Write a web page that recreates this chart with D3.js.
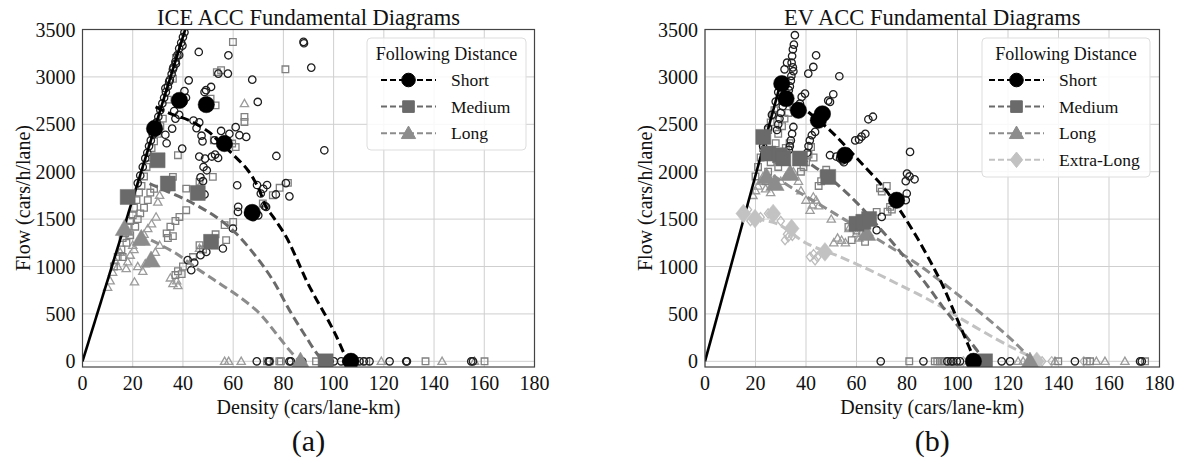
<!DOCTYPE html>
<html><head><meta charset="utf-8">
<script src="https://cdn.jsdelivr.net/npm/d3@7"></script>
<style>
body{margin:0;background:#fff}
svg{display:block}
text{font-family:"Liberation Serif","Times New Roman",serif;fill:#111}
</style></head>
<body><svg id="c" width="1184" height="469"></svg>
<script>
// ---------- axis ticks ----------
const xTicks = [0,20,40,60,80,100,120,140,160,180];
const yTicks = [0,500,1000,1500,2000,2500,3000,3500];
const titles = ["ICE ACC Fundamental Diagrams","EV ACC Fundamental Diagrams"];
const panelTags = ["(a)","(b)"];
const iceLegend = ["Short","Medium","Long"];
const evLegend = ["Short","Medium","Long","Extra-Long"];

// ---------- ICE (a) ----------
const iceFreeFlow = [[0,0],[40.9,3500]];
const iceShortCurve = [[29.1,2683],[34.6,2616],[42.6,2540],[50.3,2420],[54.3,2320],[60,2180],[66,2010],[70,1830],[73.1,1629],[76,1520],[81.1,1313],[85,1100],[89.1,856],[93,660],[97.1,469],[101,270],[105,47],[107,0]];
const iceMediumCurve = [[26.7,1875],[33,1800],[40,1720],[46.6,1629],[53.2,1523],[61.2,1348],[69.2,1102],[75.8,856],[82.4,540],[89,258],[94.4,47],[96.8,0]];
const iceLongCurve = [[27.3,1278],[37.3,1137],[46.6,961],[54.6,821],[62.5,680],[70.5,505],[77.1,294],[82.4,118],[86.4,0]];
const iceShortBig = [[28.7,2455],[38.6,2752],[49.3,2708],[56.5,2297],[67.6,1570],[106.9,0]];
const iceMediumBig = [[18,1734],[29.9,2121],[34,1875],[45.9,1776],[51.2,1260],[96.8,0]];
const iceLongBig = [[16.7,1400],[23.4,1295],[27.3,1067],[86.8,0]];
const iceCircles = [[22,1880],[23,1960],[24,2050],[25,2140],[25.8,2200],[26.5,2270],[27.2,2330],[28,2390],[28.8,2460],[29.5,2520],[30.2,2580],[31,2650],[31.8,2720],[32.5,2780],[33.2,2840],[34,2900],[34.8,2970],[35.5,3030],[36.2,3100],[37,3160],[37.8,3230],[38.5,3300],[39.3,3360],[40,3420],[40.6,3470],[33,2880],[34.5,2950],[36,3080],[37.2,3140],[38.5,3230],[39.8,3330],
[46.3,3263],[58.1,3228],[88,3370],[88.2,3355],[91.1,3098],[96.3,2226],[67.6,2971],[69.8,2736],[57.9,3035],[54.1,3035],[51.2,2894],[49.2,2860],[48.6,2841],[42.3,2964],[40.6,2850],[41.2,2780],[40.2,2740],[36.5,2640],[37,2560],[38.5,2600],[35.7,2455],[33,2390],[33.5,2300],[39.7,2244],[44.2,2540],[46.5,2520],[45.4,2460],[47.4,2380],[47.8,2320],[55.2,2430],[58.5,2400],[62.5,2385],[65.2,2367],[61,2470],[52.6,2332],[48.8,2138],[46.5,2160],[51.5,2160],[52.8,2180],[54,2145],[48.2,2050],[49.5,2015],[47,1940],[48,1900],[46,1780],[48.6,1760],[61.6,1857],[69.5,1860],[72,1820],[71,1770],[73.5,1860],[62,1630],[72.5,1640],[77.2,2166],[81,1880],[82.4,1740],[77,1760],[73.1,1629],[61.9,1576],[66,1560],[70,1540],[68,1520],[66.5,1600],[59.9,1401],[55.9,1190],[49.3,1154],[41.9,1067],[44.5,1040],[43.3,961],[47,1120],
[69.4,0],[74.1,0],[74.5,0],[82.4,0],[83,0],[87.5,0],[98.4,0],[100.1,0],[103,0],[105,0],[108,0],[110.3,0],[112,0],[114.3,0],[122.3,0],[128.9,0],[129.2,0],[154.8,0],[155.5,0]];
const iceSquares = [[12.5,1000],[14,1100],[15.5,1180],[16,1300],[17,1350],[18,1420],[19,1480],[20,1540],[20.5,1620],[21.5,1700],[22.5,1780],[23.5,1850],[24.5,1950],[25.5,2050],[26.5,2150],[27.5,2250],[28.5,2320],[30,2400],[31,2480],[32,2560],[34,2760],[36,2980],[37.2,3200],[16,1100],[17.5,1250],[19,1330],[21,1420],[22,1500],[23,1560],[24.5,1620],[26,1700],[27,1780],[28.5,1820],
[59.9,3368],[80.8,3080],[55.2,3070],[53.5,3050],[51,2771],[53,2700],[64.5,2578],[64.5,2525],[59.6,2297],[61,2260],[52.3,2332],[38,2174],[36,1945],[41.3,1822],[46.6,1892],[75.8,1752],[78.5,1830],[81.8,1882],[71.8,1665],[41.3,1594],[38.6,1523],[37,1480],[35,1420],[33.5,1350],[51.9,1945],[56.6,1436],[60,1470],[57.2,1278],[53,1340],[52.5,1280],[46.6,1225],[40,1000],[38,950],[37,910],[39.5,920],[34,1300],[36,1320],[44,1100],[48,1180],[50,1230],
[73.5,0],[74.5,0],[78.4,0],[79,0],[93,0],[96,0],[105.5,0],[113,0],[136.6,0],[160.1,0]];
const iceTriangles = [[64.5,2719],[46.8,1857],[30.7,1752],[30,1680],[29.3,1523],[27.5,1450],[26,1400],[24.5,1340],[23,1260],[20,1225],[20.5,1180],[19,1120],[17.4,979],[18,1050],[20.7,838],[35,880],[36,820],[37.5,850],[38,800],[30.7,1225],[29,1150],[12,940],[11,850],[10,780],[14,1000],[15,1150],[13,1060],[22,1000],[24,950],[25,1030],[46.6,1193],
[56.6,0],[58.2,0],[63.2,0],[119,0],[143.2,0],[156.1,0]];

// ---------- EV (b) ----------
const evFreeFlow = [[0,0],[30.4,2980]];
const evShortCurve = [[40.9,2630],[49.5,2437],[56,2260],[62.7,2068],[70.6,1840],[77.2,1594],[83.8,1313],[90.4,996],[94.4,785],[99,500],[103,250],[107,0]];
const evMediumCurve = [[37.6,2150],[44,2040],[50,1920],[56,1780],[62,1620],[68,1440],[75,1230],[82,1000],[88,800],[94,580],[100,380],[105,210],[111,0]];
const evLongCurve = [[27,1960],[35,1820],[45,1660],[55,1500],[65,1340],[75,1180],[85,1010],[95,810],[105,600],[115,380],[123,190],[130,0]];
const evXLongCurve = [[20,1500],[28.4,1453],[40.3,1243],[53.5,1102],[65.3,961],[75.9,821],[90,630],[102,440],[115,240],[125,100],[133,0]];
const evShortBig = [[30.4,2929],[32.1,2771],[37,2648],[44.9,2543],[46.5,2610],[55.4,2174],[75.9,1699],[106.3,0]];
const evMediumBig = [[23.1,2367],[25.1,2191],[29.7,2174],[31,2140],[37.6,2139],[48.8,1945],[60,1450],[62.7,1471],[65,1500],[110.9,0]];
const evLongBig = [[24.4,1945],[27.7,1875],[33.7,1981],[64,1348],[128.7,0]];
const evXLongBig = [[15.2,1559],[19.8,1506],[27,1559],[34.3,1401],[47.5,1154],[131.4,0]];
const evCircles = [[23,2270],[25,2460],[26.5,2600],[28,2740],[29,2840],[31.5,3080],[32.5,3150],
[35.6,3440],[35.2,3340],[34.8,3290],[34.5,3220],[34.3,3150],[34.8,3100],[35,3060],[34.2,3010],[34,2960],[33.6,2900],[33.2,2860],[32.8,2800],[31.5,2740],[30.8,2690],[30,2620],[29.5,2560],[29,2500],[28.5,2440],
[39.6,2824],[38.3,2789],[37.6,2719],[36.3,2683],[35,2472],[34.5,2400],[34,2330],[33.6,2270],[33.2,2230],[42.3,2385],[41.5,2330],[41,2270],[40.5,2200],[43.6,2420],
[44,3228],[42.9,3105],[40.9,3035],[53.2,3007],[49.5,2736],[50.8,2817],[48.8,2750],[64.7,2553],[66.5,2580],[63.5,2400],[62,2370],[61,2340],[59.5,2330],[49.5,2174],[52,2160],[53.5,2140],[54.5,2120],[55,2100],[56,2150],[46,2580],[47,2620],[81.2,2209],[80,1980],[81,1950],[83,1920],[79.5,1900],[79.9,1770],[79.5,1700],[70,1523],[68,1383],
[69.6,0],[86.5,0],[96,0],[97.5,0],[98.3,0],[99.7,0],[101,0],[106.3,0],[117.5,0],[120.8,0],[146.5,0],[172.3,0],[173,0]];
const evSquares = [[20,1950],[21,2050],[22,2150],[23,2250],[24,2350],[25,2440],[26,2520],[27,2600],[27.5,2650],[24,1900],[25,2000],[26,2100],[27,2200],[28,2300],[29,2400],[30.5,2480],[31.5,2560],[33,2620],[35,2680],[36,2640],[33.5,2300],[32,2250],[31,2200],[30,2120],[29,2050],[40,2100],[41,2180],[42,2260],[43,2150],[38,2000],[39,2050],[47,1980],[48,2020],[46,1900],[45,1850],[69.3,1826],[70,1790],[72,1850],[73.3,1629],[68,1576],[72.3,1578],[74,1600],[56.8,1418],[58.1,1278],[63.4,1260],[60,1380],[62,1420],[65,1480],[66,1520],
[80.9,0],[91,0],[92,0],[93,0],[94,0],[95,0],[96.5,0],[139.9,0],[151.2,0],[152.5,0],[174.3,0]];
const evTriangles = [[41.6,1594],[42.5,1650],[42.9,1734],[44,1700],[45,1640],[54.1,1278],[52.5,1300],[51,1250],[55.6,1250],[20,1800],[21,1850],[22,1900],[23,1950],[19,1750],[24,1820],[26,1780],[28,1850],[30,1900],[32,1950],[35,2000],[37,1900],[38,1800],[40,1700],[50,1500],[57,1400],[60,1350],[61,1300],
[124,0],[126,0],[138.6,0],[155,0],[158.4,0],[166.3,0]];
const evDiamonds = [[31.7,1278],[33,1310],[32.5,1340],[34.6,1323],[41.6,1102],[43,1130],[43.6,1065],[44.5,1100],[17,1600],[18,1480],[22,1520],[25,1560],[28,1550],[30,1480],
[102.3,0],[133.5,0],[137.3,0],[150,0]];

// ---------- styles ----------
const C = {short:"#000000", medium:"#6a6a6a", long:"#8c8c8c", xlong:"#c2c2c2",
           hc:"#1f1f1f", hs:"#808080", ht:"#9c9c9c", hd:"#bcbcbc"};
const svg = d3.select("#c");

function symPath(kind, s){
  if(kind==="circle") return d3.symbol(d3.symbolCircle, Math.PI*s*s)();
  if(kind==="square") return `M${-s},${-s}H${s}V${s}H${-s}Z`;
  if(kind==="triangle") { const h=s*1.15; return `M0,${-h}L${h},${h*0.75}L${-h},${h*0.75}Z`; }
  if(kind==="diamond") return `M0,${-s*1.25}L${s*1.0},0L0,${s*1.25}L${-s*1.0},0Z`;
}

function panel(cfg){
  const x = d3.scaleLinear().domain([0,180]).range(cfg.xr);
  const y = d3.scaleLinear().domain([-60,3500]).range([367,29.5]);
  const g = svg.append("g");
  const clipId = "clip"+cfg.id;
  svg.append("clipPath").attr("id",clipId).append("rect")
     .attr("x",cfg.xr[0]).attr("y",29.5).attr("width",cfg.xr[1]-cfg.xr[0]).attr("height",367-29.5);
  // grid
  g.append("g").selectAll("line").data(xTicks).join("line")
    .attr("x1",d=>x(d)).attr("x2",d=>x(d)).attr("y1",29.5).attr("y2",367)
    .attr("stroke","#cfcfcf").attr("stroke-width",1);
  g.append("g").selectAll("line").data(yTicks).join("line")
    .attr("x1",cfg.xr[0]).attr("x2",cfg.xr[1]).attr("y1",d=>y(d)).attr("y2",d=>y(d))
    .attr("stroke","#cfcfcf").attr("stroke-width",1);
  // tick labels
  g.append("g").selectAll("text").data(xTicks).join("text")
    .attr("x",d=>x(d)).attr("y",390).attr("text-anchor","middle")
    .attr("font-size",20).text(d=>d);
  g.append("g").selectAll("text").data(yTicks).join("text")
    .attr("x",cfg.xr[0]-7).attr("y",d=>y(d)).attr("dy","0.35em").attr("text-anchor","end")
    .attr("font-size",20).text(d=>d);
  // labels
  const cx=(cfg.xr[0]+cfg.xr[1])/2;
  g.append("text").attr("x",cx).attr("y",25).attr("text-anchor","middle").attr("font-size",22.5).text(cfg.title);
  g.append("text").attr("x",cx).attr("y",414).attr("text-anchor","middle").attr("font-size",20).text("Density (cars/lane-km)");
  g.append("text").attr("transform",`translate(${cfg.xr[0]-53},198) rotate(-90)`).attr("text-anchor","middle").attr("font-size",20).text("Flow (cars/h/lane)");
  g.append("text").attr("x",cx).attr("y",451).attr("text-anchor","middle").attr("font-size",30).text(cfg.tag);

  const pg = g.append("g").attr("clip-path",`url(#${clipId})`);
  // hollow scatter
  const hollow=(data,kind,s,col)=>pg.append("g").selectAll("path").data(data).join("path")
      .attr("transform",d=>`translate(${x(d[0])},${y(d[1])})`).attr("d",symPath(kind,s))
      .attr("fill","none").attr("stroke",col).attr("stroke-width",1.3);
  cfg.hollow.forEach(h=>hollow(h[0],h[1],h[2],h[3]));
  // free flow
  const line=d3.line().x(d=>x(d[0])).y(d=>y(d[1]));
  pg.append("path").attr("d",line(cfg.ff)).attr("stroke","#000").attr("stroke-width",2.6).attr("fill","none");
  // curves
  const cl=d3.line().x(d=>x(d[0])).y(d=>y(d[1])).curve(d3.curveCatmullRom);
  cfg.curves.forEach(c=>pg.append("path").attr("d",cl(c[0])).attr("fill","none")
      .attr("stroke",c[1]).attr("stroke-width",3).attr("stroke-dasharray","9,4.5"));
  // big markers
  cfg.big.forEach(b=>pg.append("g").selectAll("path").data(b[0]).join("path")
      .attr("transform",d=>`translate(${x(d[0])},${y(d[1])})`).attr("d",symPath(b[1],b[2]))
      .attr("fill",b[3]).attr("stroke",b[3]).attr("stroke-width",0.5));
  // frame
  g.append("rect").attr("x",cfg.xr[0]).attr("y",29.5).attr("width",cfg.xr[1]-cfg.xr[0]).attr("height",367-29.5)
    .attr("fill","none").attr("stroke","#444").attr("stroke-width",1.2);
  // legend
  const L=cfg.legend;
  const lg=g.append("g");
  lg.append("rect").attr("x",L.x).attr("y",38).attr("width",L.w).attr("height",L.h).attr("rx",4)
    .attr("fill","#fff").attr("fill-opacity",0.85).attr("stroke","#dddddd");
  lg.append("text").attr("x",L.x+L.w/2).attr("y",60).attr("text-anchor","middle").attr("font-size",18).text("Following Distance");
  L.items.forEach((it,i)=>{
    const yy=80+i*26.6;
    lg.append("line").attr("x1",L.x+L.hx).attr("x2",L.x+L.hx+55).attr("y1",yy).attr("y2",yy)
      .attr("stroke",it.col).attr("stroke-width",2).attr("stroke-dasharray","6,3");
    lg.append("path").attr("transform",`translate(${L.x+L.hx+27.5},${yy})`).attr("d",symPath(it.kind,it.s))
      .attr("fill",it.col).attr("stroke",it.col);
    lg.append("text").attr("x",L.x+L.hx+70).attr("y",yy).attr("dy","0.35em").attr("font-size",17.5).text(it.label);
  });
}

panel({id:"a", xr:[82.5,534.5], title:titles[0], tag:panelTags[0], ff:iceFreeFlow,
  hollow:[[iceTriangles,"triangle",3.6,C.ht],[iceSquares,"square",3.3,C.hs],[iceCircles,"circle",3.7,C.hc]],
  curves:[[iceLongCurve,C.long],[iceMediumCurve,C.medium],[iceShortCurve,C.short]],
  big:[[iceLongBig,"triangle",8,C.long],[iceMediumBig,"square",7.5,C.medium],[iceShortBig,"circle",8.2,C.short]],
  legend:{x:367,w:159,h:112,hx:14,items:[
    {label:iceLegend[0],kind:"circle",s:6.8,col:C.short},
    {label:iceLegend[1],kind:"square",s:5.8,col:C.medium},
    {label:iceLegend[2],kind:"triangle",s:6.2,col:C.long}]}});

panel({id:"b", xr:[705,1159.5], title:titles[1], tag:panelTags[1], ff:evFreeFlow,
  hollow:[[evDiamonds,"diamond",3.7,C.hd],[evTriangles,"triangle",3.6,C.ht],[evSquares,"square",3.3,C.hs],[evCircles,"circle",3.7,C.hc]],
  curves:[[evXLongCurve,C.xlong],[evLongCurve,C.long],[evMediumCurve,C.medium],[evShortCurve,C.short]],
  big:[[evXLongBig,"diamond",7.5,C.xlong],[evLongBig,"triangle",8,C.long],[evMediumBig,"square",7.5,C.medium],[evShortBig,"circle",8.2,C.short]],
  legend:{x:982,w:168,h:139,hx:7,items:[
    {label:evLegend[0],kind:"circle",s:6.8,col:C.short},
    {label:evLegend[1],kind:"square",s:5.8,col:C.medium},
    {label:evLegend[2],kind:"triangle",s:6.2,col:C.long},
    {label:evLegend[3],kind:"diamond",s:6.2,col:C.xlong}]}});
</script>
</body></html>
